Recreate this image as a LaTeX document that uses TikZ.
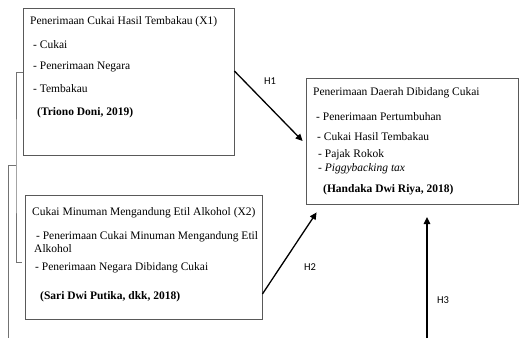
\documentclass[tikz,border=0pt]{standalone}
\usepackage{fontspec}
\setmainfont{Liberation Serif}
\newfontfamily\hfont{Carlito}
\usetikzlibrary{arrows.meta,positioning}

\begin{document}
\begin{tikzpicture}[x=1pt,y=-1pt,
box/.style={draw=black!65,line width=.8pt,inner sep=0pt},
txt/.style={anchor=west,inner sep=0pt,font=\fontsize{11.5}{12.5}\selectfont,align=left},
hyp/.style={font=\hfont\fontsize{10.5}{12}\selectfont,inner sep=0pt},
arr/.style={-{Triangle[length=7pt,width=6.5pt]},line width=1.3pt},
brk/.style={draw=black!55,line width=.6pt}]
\useasboundingbox (0,0) rectangle (521,338);
% variables
\node[box,minimum width=211pt,minimum height=147pt](x1) at (128.5,81.5){};
\node[box,minimum width=237pt,minimum height=124pt](x2) at (143.5,257){};
\node[box,minimum width=212pt,minimum height=126pt](y) at (412,141){};
% X1
\node[txt](x1t) at (30,22){Penerimaan Cukai Hasil Tembakau (X1)};
\node[txt](x1a) at (33,45){- Cukai};
\node[txt](x1b) at (33,67){- Penerimaan Negara};
\node[txt](x1c) at (33,89){- Tembakau};
\node[txt](x1r) at (37,113){\textbf{(Triono Doni, 2019)}};
% X2
\node[txt](x2t) at (32,213){Cukai Minuman Mengandung Etil Alkohol (X2)};
\node[txt](x2a) at (34,242){\,- Penerimaan Cukai Minuman Mengandung Etil\\Alkohol};
\node[txt](x2b) at (35,268){- Penerimaan Negara Dibidang Cukai};
\node[txt](x2r) at (40,297){\textbf{(Sari Dwi Putika, dkk, 2018)}};
% Y
\node[txt](yt) at (313,93){Penerimaan Daerah Dibidang Cukai};
\node[txt](ya) at (316,117){- Penerimaan Pertumbuhan};
\node[txt](yb) at (317,137){- Cukai Hasil Tembakau};
\node[txt](yc) at (318,155){- Pajak Rokok};
\node[txt](yd) at (318,169){- \textit{Piggybacking tax}};
\node[txt](yr) at (323,190){\textbf{(Handaka Dwi Riya, 2018)}};
% bracket
\coordinate (bmid) at (16,165);
\coordinate (bend) at (8,338);
\draw[brk] ([yshift=9.5pt]x1.west) -| (bmid) |- ([xshift=-3pt,yshift=-5pt]x2.west);
\draw[brk] (bmid) -| (bend);
% hypotheses
\coordinate (h3s) at (427,338);
\coordinate (h3e) at (427,217);
\draw[arr] ([yshift=10.5pt]x1.east) -- ([xshift=-3pt]y.west);
\draw[arr] ([yshift=-37pt]x2.east) -- ([xshift=11pt,yshift=-8pt]y.south west);
\draw[arr] (h3s) -- (h3e);
\node[hyp](h1) at (270,81){H1};
\node[hyp](h2) at (310,267){H2};
\node[hyp](h3) at (443,300){H3};
\end{tikzpicture}
\end{document}
